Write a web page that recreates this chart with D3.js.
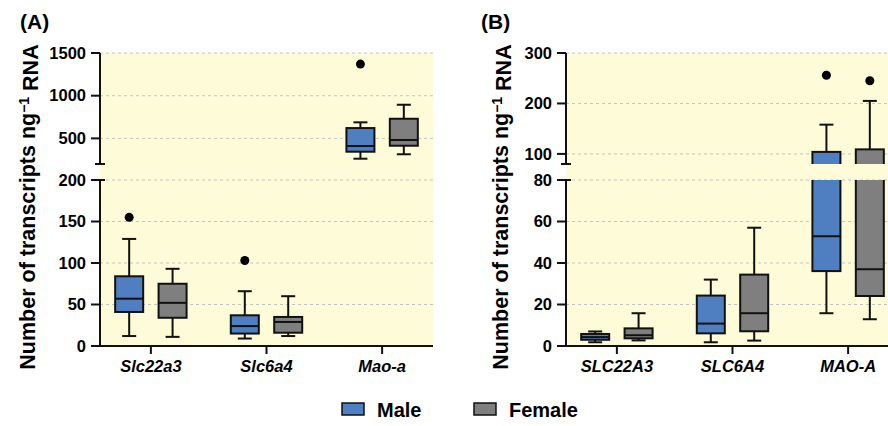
<!DOCTYPE html>
<html>
<head>
<meta charset="utf-8">
<script src="https://cdn.jsdelivr.net/npm/d3@7"></script>
<style>
  body { margin: 0; background: #fff; }
  svg { font-family: "Liberation Sans", Arial, sans-serif; }
</style>
</head>
<body>
<div id="chart"></div>
<script>
// box stats per gene: [low whisker, Q1, median, Q3, high whisker]
const sexes = ["Male", "Female"];
const sexColors = ["#4f7fc1", "#7f7f7f"];

const mouseGenes = ["Slc22a3", "Slc6a4", "Mao-a"];
const mouseMale = [[12, 41, 57, 84, 129], [9, 15, 24, 37, 66], [262, 344, 411, 621, 688]];
const mouseFemale = [[11, 34, 52, 75, 93], [12, 16, 29, 35, 60], [314, 414, 481, 730, 894]];
const mouseMaleOut = [[155], [103], [1370]];
const mouseFemaleOut = [[], [], []];

const humanGenes = ["SLC22A3", "SLC6A4", "MAO-A"];
const humanMale = [[1.8, 3, 4.3, 5.8, 7], [1.8, 6.1, 10.8, 24.3, 32], [15.8, 36.1, 52.9, 104, 158]];
const humanFemale = [[2.7, 3.7, 5.2, 8.5, 15.8], [2.6, 7.1, 15.8, 34.4, 57], [12.9, 24.1, 37, 109, 205]];
const humanMaleOut = [[], [], [256]];
const humanFemaleOut = [[], [], [245]];

const mouseLowTicks = [0, 50, 100, 150, 200];
const mouseHighTicks = [500, 1000, 1500];
const humanLowTicks = [0, 20, 40, 60, 80];
const humanHighTicks = [100, 200, 300];

const width = 888, height = 426;
const plotTop = 53, plotBottom = 346, breakTop = 164, breakBottom = 180;
const plotW = 333;

const svg = d3.select("#chart").append("svg")
  .attr("width", width)
  .attr("height", height);

const defs = svg.append("defs");

const panel = (cfg) => {
  const {id, label, tagX, left, genes, male, female, maleOut, femaleOut, lowTicks, highTicks, labelX} = cfg;
  const g = svg.append("g");

  const breakVal = lowTicks[lowTicks.length - 1];
  const x = d3.scalePoint().domain(genes).range([left, left + plotW]).padding(0.44);
  const yLow = d3.scaleLinear().domain([0, breakVal]).range([plotBottom, breakBottom]);
  const yHigh = d3.scaleLinear().domain([breakVal, highTicks[highTicks.length - 1]]).range([breakTop, plotTop]);

  // background
  g.append("rect")
    .attr("x", left).attr("y", plotTop)
    .attr("width", plotW).attr("height", plotBottom - plotTop)
    .attr("fill", "#fdfbd8");

  // clip paths for the two segments
  defs.append("clipPath").attr("id", id + "-low")
    .append("rect").attr("x", left).attr("y", breakBottom).attr("width", plotW).attr("height", 200);
  defs.append("clipPath").attr("id", id + "-high")
    .append("rect").attr("x", left).attr("y", 0).attr("width", plotW).attr("height", breakTop);

  // grid
  const grid = lowTicks.slice(1).map(v => yLow(v)).concat(highTicks.map(v => yHigh(v)));
  g.append("g").selectAll("line").data(grid).join("line")
    .attr("x1", left).attr("x2", left + plotW)
    .attr("y1", d => d).attr("y2", d => d)
    .attr("stroke", "#c4c4c4").attr("stroke-dasharray", "3,3").attr("stroke-width", 1);

  const boxes = [];
  genes.forEach((gene, i) => {
    boxes.push({gene, s: 0, v: male[i], out: maleOut[i]});
    boxes.push({gene, s: 1, v: female[i], out: femaleOut[i]});
  });
  const off = 21.7, bw = 28;

  [[yLow, "-low", v => v <= breakVal], [yHigh, "-high", v => v > breakVal]].forEach(([y, suffix, inSeg]) => {
    const seg = g.append("g").attr("clip-path", `url(#${id}${suffix})`);
    const b = seg.selectAll("g").data(boxes).join("g")
      .attr("transform", d => `translate(${x(d.gene) + (d.s === 0 ? -off : off)},0)`);
    b.append("line")
      .attr("y1", d => y(d.v[0])).attr("y2", d => y(d.v[1]))
      .attr("stroke", "#111").attr("stroke-width", 2);
    b.append("line")
      .attr("y1", d => y(d.v[3])).attr("y2", d => y(d.v[4]))
      .attr("stroke", "#111").attr("stroke-width", 2);
    b.append("line")
      .attr("x1", -7).attr("x2", 7)
      .attr("y1", d => y(d.v[0])).attr("y2", d => y(d.v[0]))
      .attr("stroke", "#111").attr("stroke-width", 2);
    b.append("line")
      .attr("x1", -7).attr("x2", 7)
      .attr("y1", d => y(d.v[4])).attr("y2", d => y(d.v[4]))
      .attr("stroke", "#111").attr("stroke-width", 2);
    b.append("rect")
      .attr("x", -bw / 2).attr("width", bw)
      .attr("y", d => y(d.v[3])).attr("height", d => y(d.v[1]) - y(d.v[3]))
      .attr("fill", d => sexColors[d.s]).attr("stroke", "#111").attr("stroke-width", 2);
    b.append("line")
      .attr("x1", -bw / 2).attr("x2", bw / 2)
      .attr("y1", d => y(d.v[2])).attr("y2", d => y(d.v[2]))
      .attr("stroke", "#111").attr("stroke-width", 2);
    b.selectAll("circle").data(d => d.out.filter(inSeg)).join("circle")
      .attr("cy", d => y(d)).attr("r", 4.5).attr("fill", "#000");
  });

  // y axis: two segments with caps
  const ax = g.append("g").attr("stroke", "#111").attr("stroke-width", 2);
  ax.append("line").attr("x1", left).attr("x2", left).attr("y1", plotTop).attr("y2", breakTop);
  ax.append("line").attr("x1", left).attr("x2", left).attr("y1", breakBottom).attr("y2", plotBottom);
  ax.append("line").attr("x1", left - 5).attr("x2", left + 5).attr("y1", breakTop).attr("y2", breakTop);
  ax.append("line").attr("x1", left - 5).attr("x2", left + 5).attr("y1", breakBottom).attr("y2", breakBottom);
  const allTicks = lowTicks.map(v => ({v, y: yLow(v)})).concat(highTicks.map(v => ({v, y: yHigh(v)})));
  ax.append("g").selectAll("line").data(allTicks).join("line")
    .attr("x1", left - 9).attr("x2", left)
    .attr("y1", d => d.y).attr("y2", d => d.y);
  g.append("g").selectAll("text").data(allTicks).join("text")
    .attr("x", left - 14).attr("y", d => d.y).attr("dy", "0.35em")
    .attr("text-anchor", "end")
    .style("font-size", "16.5px").style("font-weight", "bold")
    .text(d => d.v);

  // x axis
  ax.append("line").attr("x1", left - 9).attr("x2", left + plotW).attr("y1", plotBottom).attr("y2", plotBottom);
  ax.append("g").selectAll("line").data(genes).join("line")
    .attr("x1", d => x(d)).attr("x2", d => x(d))
    .attr("y1", plotBottom).attr("y2", plotBottom + 8);
  g.append("g").selectAll("text").data(genes).join("text")
    .attr("x", d => x(d)).attr("y", 372)
    .attr("text-anchor", "middle")
    .style("font-size", "16.5px").style("font-weight", "bold").style("font-style", "italic")
    .text(d => d);

  // y label
  const yl = g.append("text")
    .attr("transform", `translate(${labelX},207) rotate(-90)`)
    .attr("text-anchor", "middle")
    .style("font-size", "21.5px").style("font-weight", "bold");
  yl.append("tspan").text("Number of transcripts ng");
  yl.append("tspan").attr("dy", "-0.45em").style("font-size", "14px").text("\u22121");
  yl.append("tspan").attr("dy", "0.45em").text(" RNA");

  // panel label
  g.append("text")
    .attr("x", tagX).attr("y", 29)
    .style("font-size", "21px").style("font-weight", "bold")
    .text(label);
};

panel({id: "a", label: "(A)", tagX: 20, left: 100, labelX: 35, genes: mouseGenes,
  male: mouseMale, female: mouseFemale, maleOut: mouseMaleOut, femaleOut: mouseFemaleOut,
  lowTicks: mouseLowTicks, highTicks: mouseHighTicks});
panel({id: "b", label: "(B)", tagX: 481, left: 566, labelX: 508, genes: humanGenes,
  male: humanMale, female: humanFemale, maleOut: humanMaleOut, femaleOut: humanFemaleOut,
  lowTicks: humanLowTicks, highTicks: humanHighTicks});

// legend
const legendX = [342, 474];
const leg = svg.selectAll(".leg").data(sexes).join("g")
  .attr("class", "leg")
  .attr("transform", (d, i) => `translate(${legendX[i]},403)`);
leg.append("rect")
  .attr("width", 22).attr("height", 12)
  .attr("fill", (d, i) => sexColors[i]).attr("stroke", "#111").attr("stroke-width", 1.5);
leg.append("text")
  .attr("x", 35).attr("y", 14)
  .style("font-size", "20px").style("font-weight", "bold")
  .text(d => d);
</script>
</body>
</html>
